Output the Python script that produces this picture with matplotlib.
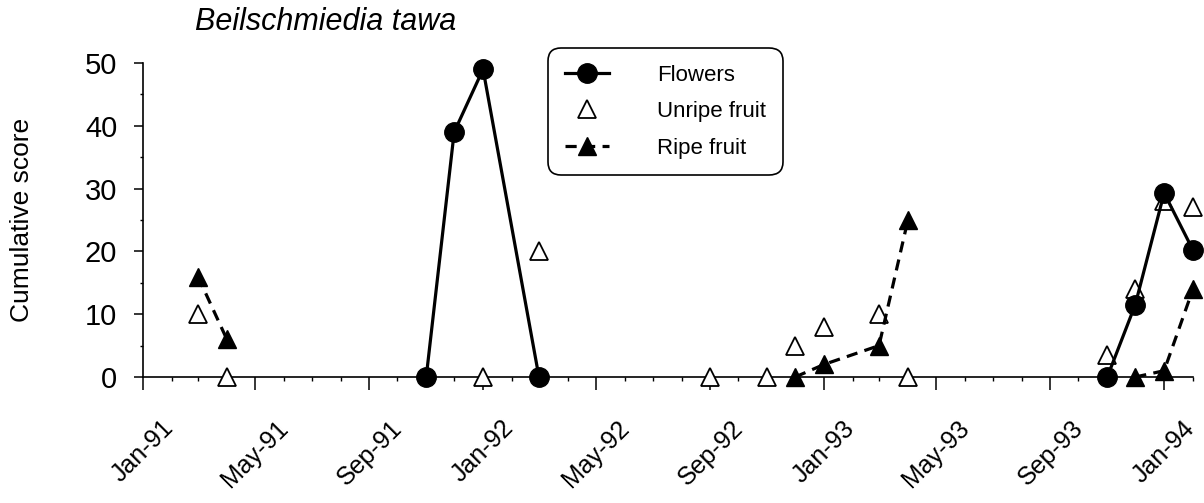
import numpy as np
import matplotlib
matplotlib.use("Agg")
import matplotlib.pyplot as plt
import matplotlib.dates as mdates
from datetime import datetime

plt.rcParams['font.family'] = ['Liberation Sans', 'DejaVu Sans']

nan = np.nan

# sampling months (one visit per month)
sample_months = ['1991-03', '1991-04', '1991-11', '1991-12', '1992-01', '1992-03',
                 '1992-09', '1992-11', '1992-12', '1993-01', '1993-03', '1993-04',
                 '1993-11', '1993-12', '1994-01', '1994-02']
flowers = [nan, nan, 0, 39, 49, 0, nan, nan, nan, nan, nan, nan, 0, 11.5, 29.3, 20.2]
unripe_fruit = [10, 0, nan, nan, 0, 20, 0, 0, 5, 8, 10, 0, 3.5, 14, 28, 27]
ripe_fruit = [16, 6, nan, nan, nan, nan, nan, nan, 0, 2, 5, 25, nan, 0, 1, 14]

dates = [datetime.strptime(m, '%Y-%m') for m in sample_months]

W, H = 1204, 503
fig = plt.figure(figsize=(W / 100, H / 100), dpi=100)
ax = fig.add_axes([143 / W, 1 - 377 / H, (1193 - 143) / W, (377 - 63) / H])

ax.plot(dates, unripe_fruit, linestyle='none', marker='^', markersize=13,
        markerfacecolor='white', markeredgecolor='black', markeredgewidth=1.3,
        label='Unripe fruit', clip_on=False, zorder=3)
ax.plot(dates, flowers, color='black', linewidth=2.3, marker='o', markersize=14,
        label='Flowers', clip_on=False, zorder=4)
ax.plot(dates, ripe_fruit, color='black', linewidth=2.3, linestyle=(0, (3.5, 2.3)),
        marker='^', markersize=13, label='Ripe fruit', clip_on=False, zorder=5)

ax.set_xlim(datetime(1991, 1, 1), datetime(1994, 2, 1))
ax.set_ylim(0, 50)

ax.xaxis.set_major_locator(mdates.MonthLocator(bymonth=[1, 5, 9]))
ax.xaxis.set_minor_locator(mdates.MonthLocator())
ax.xaxis.set_major_formatter(mdates.DateFormatter('%b-%y'))
ax.set_yticks(range(0, 51, 10))
ax.set_yticks(range(5, 50, 10), minor=True)

for s in ['top', 'right']:
    ax.spines[s].set_visible(False)
for s in ['left', 'bottom']:
    ax.spines[s].set_linewidth(1.2)

ax.tick_params(axis='x', which='major', length=9, width=1.1, pad=19, labelsize=18)
ax.tick_params(axis='x', which='minor', length=3, width=1)
ax.tick_params(axis='y', which='major', length=6.5, width=1.1, pad=12, labelsize=21)
ax.tick_params(axis='y', which='minor', length=2, width=1)
for lab in ax.get_xticklabels():
    lab.set_rotation(45)
    lab.set_ha('center')

fig.text(22 / W, 1 - 220 / H, 'Cumulative score', rotation=90, ha='center',
         va='center', fontsize=19)
fig.text(195 / W, 1 - 22 / H, 'Beilschmiedia tawa', style='italic', ha='left',
         va='center', fontsize=22)

h, l = ax.get_legend_handles_labels()
order = [1, 0, 2]
leg = ax.legend([h[i] for i in order], [l[i] for i in order], loc='upper left',
                bbox_to_anchor=(548 / W, 1 - 48 / H), bbox_transform=fig.transFigure,
                borderaxespad=0, frameon=True, fancybox=True, framealpha=1,
                edgecolor='black', borderpad=0.75, labelspacing=0.7,
                handlelength=2.0, handletextpad=2.15, fontsize=16)
leg.get_frame().set_linewidth(1.2)
leg.get_frame().set_boxstyle('round,pad=0,rounding_size=0.6')

fig.savefig('out.png', dpi=100)
